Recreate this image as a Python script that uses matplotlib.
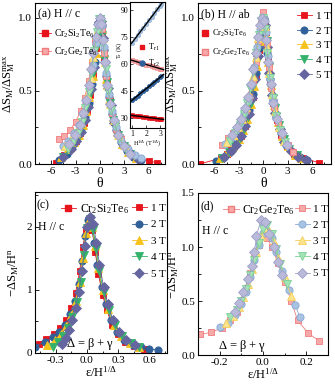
import numpy as np
import matplotlib
matplotlib.use("Agg")
import matplotlib.pyplot as plt
from matplotlib.ticker import AutoMinorLocator, MultipleLocator

plt.rcParams['font.family'] = ['Liberation Serif', 'DejaVu Serif']
plt.rcParams['mathtext.fontset'] = 'stix'
plt.rcParams['mathtext.default'] = 'regular'
plt.rcParams['axes.unicode_minus'] = False
plt.rcParams['xtick.direction'] = 'in'
plt.rcParams['ytick.direction'] = 'in'
plt.rcParams['axes.linewidth'] = 0.8

fields = ["1 T", "2 T", "3 T", "4 T", "5 T"]

# panel (a): H // c, Cr2Si2Te6 (dark) and Cr2Ge2Te6 (light)
a_si_x = [
    [-5.4, -4.4, -3.6, -3.0, -2.5, -2.0, -1.6, -1.2, -0.8, -0.45, -0.15, 0.05, 0.3, 0.55, 0.85, 1.2, 1.6, 2.1, 2.7, 3.4, 4.3, 6.0, 7.0],
    [-5.0, -4.1, -3.4, -2.8, -2.3, -1.8, -1.4, -1.0, -0.65, -0.3, -0.05, 0.2, 0.45, 0.75, 1.1, 1.5, 2.0, 2.6, 3.3, 4.1, 5.0],
    [-4.8, -3.9, -3.2, -2.6, -2.1, -1.7, -1.3, -0.9, -0.55, -0.25, 0.0, 0.25, 0.5, 0.8, 1.15, 1.55, 2.05, 2.7, 3.5, 4.4],
    [-4.6, -3.7, -3.0, -2.45, -2.0, -1.6, -1.2, -0.85, -0.5, -0.2, 0.05, 0.3, 0.55, 0.85, 1.2, 1.65, 2.2, 2.9, 3.7],
    [-4.5, -3.6, -2.9, -2.4, -1.9, -1.5, -1.1, -0.75, -0.4, -0.1, 0.1, 0.35, 0.6, 0.95, 1.3, 1.75, 2.3, 3.0, 3.8, 4.8],
]
a_si_y = [
    [0.01, 0.06, 0.11, 0.16, 0.21, 0.28, 0.36, 0.47, 0.61, 0.79, 0.94, 0.99, 0.9, 0.72, 0.56, 0.43, 0.31, 0.21, 0.14, 0.09, 0.05, 0.02, 0.01],
    [0.03, 0.07, 0.12, 0.18, 0.24, 0.32, 0.42, 0.55, 0.7, 0.88, 0.99, 0.94, 0.78, 0.6, 0.46, 0.34, 0.23, 0.15, 0.09, 0.05, 0.03],
    [0.05, 0.1, 0.15, 0.2, 0.27, 0.36, 0.46, 0.6, 0.76, 0.92, 1.0, 0.92, 0.76, 0.58, 0.44, 0.32, 0.22, 0.14, 0.08, 0.04],
    [0.05, 0.1, 0.15, 0.21, 0.28, 0.37, 0.48, 0.62, 0.79, 0.94, 0.99, 0.88, 0.72, 0.56, 0.42, 0.3, 0.2, 0.12, 0.07],
    [0.05, 0.1, 0.16, 0.22, 0.3, 0.39, 0.51, 0.66, 0.84, 0.97, 0.98, 0.86, 0.7, 0.52, 0.4, 0.28, 0.19, 0.12, 0.07, 0.03],
]
a_ge_x = [
    [-5.1, -4.4, -3.7, -3.0, -2.4, -1.9, -1.4, -1.0, -0.6, -0.3, 0.0, 0.25, 0.5, 0.8, 1.1, 1.5, 2.0, 2.6, 3.3],
    [-4.6, -3.9, -3.2, -2.6, -2.1, -1.7, -1.3, -0.9, -0.55, -0.25, 0.0, 0.2, 0.45, 0.75, 1.05, 1.45, 1.95, 2.6, 3.4, 4.3, 5.0],
    [-4.3, -3.6, -3.0, -2.4, -1.95, -1.55, -1.15, -0.8, -0.45, -0.15, 0.1, 0.35, 0.6, 0.9, 1.25, 1.7, 2.2, 2.9],
    [-4.0, -3.3, -2.7, -2.2, -1.8, -1.4, -1.05, -0.7, -0.4, -0.1, 0.15, 0.4, 0.7, 1.0, 1.4, 1.85, 2.4, 3.1],
    [-3.8, -3.1, -2.5, -2.05, -1.7, -1.4, -1.1, -0.8, -0.5, -0.25, -0.05, 0.15, 0.35, 0.6, 0.9, 1.25, 1.7, 2.2, 2.9, 3.7],
]
a_ge_y = [
    [0.17, 0.19, 0.23, 0.29, 0.36, 0.45, 0.57, 0.7, 0.84, 0.95, 1.0, 0.92, 0.76, 0.6, 0.47, 0.35, 0.24, 0.17, 0.11],
    [0.12, 0.16, 0.21, 0.27, 0.34, 0.43, 0.54, 0.68, 0.83, 0.95, 1.0, 0.95, 0.8, 0.62, 0.48, 0.36, 0.25, 0.16, 0.1, 0.06, 0.04],
    [0.12, 0.17, 0.22, 0.29, 0.37, 0.47, 0.59, 0.73, 0.88, 0.98, 0.98, 0.86, 0.7, 0.54, 0.41, 0.3, 0.2, 0.13],
    [0.1, 0.15, 0.21, 0.29, 0.38, 0.49, 0.62, 0.77, 0.9, 0.99, 0.96, 0.83, 0.65, 0.5, 0.37, 0.27, 0.18, 0.11],
    [0.14, 0.2, 0.27, 0.35, 0.44, 0.54, 0.65, 0.76, 0.87, 0.96, 1.0, 0.96, 0.85, 0.7, 0.54, 0.41, 0.3, 0.2, 0.12, 0.07],
]

# panel (b): H // ab
b_si_x = [
    [-7.8, -5.2, -4.5, -3.9, -3.3, -2.7, -2.2, -1.7, -1.3, -0.9, -0.5, -0.2, 0.05, 0.3, 0.55, 0.85, 1.2, 1.65, 2.2, 2.9, 3.8, 4.8, 6.8],
    [-5.8, -4.8, -4.0, -3.3, -2.7, -2.2, -1.7, -1.3, -0.9, -0.55, -0.25, 0.0, 0.25, 0.5, 0.8, 1.15, 1.6, 2.15, 2.8, 3.6, 4.5, 5.4],
    [-5.3, -4.4, -3.7, -3.0, -2.5, -2.0, -1.55, -1.15, -0.8, -0.45, -0.15, 0.1, 0.35, 0.6, 0.9, 1.3, 1.75, 2.3, 3.0, 3.9, 4.6],
    [-5.0, -4.2, -3.5, -2.9, -2.4, -1.9, -1.5, -1.1, -0.75, -0.4, -0.1, 0.15, 0.4, 0.7, 1.0, 1.4, 1.9, 2.5, 3.2, 4.1],
    [-4.8, -4.0, -3.3, -2.75, -2.25, -1.8, -1.4, -1.0, -0.65, -0.3, -0.05, 0.2, 0.45, 0.75, 1.1, 1.5, 2.0, 2.6, 3.4, 4.3, 5.2],
]
b_si_y = [
    [0.0, 0.04, 0.07, 0.1, 0.14, 0.19, 0.26, 0.35, 0.46, 0.6, 0.78, 0.93, 0.99, 0.9, 0.73, 0.56, 0.42, 0.3, 0.2, 0.12, 0.07, 0.04, 0.01],
    [0.02, 0.05, 0.09, 0.14, 0.2, 0.27, 0.37, 0.48, 0.62, 0.79, 0.94, 1.0, 0.93, 0.76, 0.58, 0.44, 0.32, 0.21, 0.13, 0.08, 0.05, 0.03],
    [0.04, 0.08, 0.12, 0.17, 0.23, 0.31, 0.41, 0.53, 0.67, 0.84, 0.97, 0.99, 0.88, 0.7, 0.54, 0.4, 0.29, 0.19, 0.12, 0.06, 0.04],
    [0.04, 0.08, 0.12, 0.18, 0.24, 0.32, 0.42, 0.55, 0.7, 0.86, 0.98, 0.97, 0.84, 0.66, 0.51, 0.38, 0.27, 0.17, 0.1, 0.06],
    [0.05, 0.09, 0.13, 0.19, 0.26, 0.34, 0.45, 0.58, 0.74, 0.9, 0.99, 0.95, 0.8, 0.62, 0.47, 0.35, 0.24, 0.15, 0.09, 0.05, 0.03],
]
b_ge_x = [
    [-5.0, -4.3, -3.7, -3.1, -2.6, -2.1, -1.7, -1.3, -0.95, -0.6, -0.3, -0.05, 0.15, 0.4, 0.65, 0.95, 1.3, 1.75, 2.3, 3.0, 3.7],
    [-4.7, -4.0, -3.4, -2.8, -2.3, -1.85, -1.45, -1.1, -0.75, -0.45, -0.15, 0.1, 0.3, 0.55, 0.85, 1.2, 1.6, 2.1, 2.8],
    [-4.4, -3.7, -3.1, -2.55, -2.1, -1.7, -1.3, -0.95, -0.6, -0.3, -0.05, 0.2, 0.45, 0.75, 1.05, 1.45, 1.95, 2.6],
    [-4.1, -3.5, -2.9, -2.4, -2.0, -1.6, -1.25, -0.9, -0.55, -0.25, 0.0, 0.25, 0.5, 0.8, 1.15, 1.55, 2.05, 2.7],
    [-3.8, -3.2, -2.7, -2.25, -1.85, -1.5, -1.2, -0.9, -0.6, -0.35, -0.1, 0.1, 0.35, 0.6, 0.9, 1.25, 1.7, 2.25, 2.9],
]
b_ge_y = [
    [0.13, 0.18, 0.21, 0.25, 0.3, 0.37, 0.46, 0.57, 0.7, 0.84, 0.96, 1.04, 0.98, 0.83, 0.66, 0.52, 0.39, 0.29, 0.2, 0.13, 0.08],
    [0.14, 0.18, 0.23, 0.28, 0.35, 0.43, 0.54, 0.66, 0.8, 0.92, 1.0, 1.0, 0.9, 0.74, 0.58, 0.44, 0.33, 0.23, 0.14],
    [0.15, 0.2, 0.25, 0.31, 0.39, 0.48, 0.6, 0.73, 0.86, 0.96, 1.0, 0.94, 0.8, 0.62, 0.48, 0.36, 0.25, 0.16],
    [0.16, 0.21, 0.27, 0.34, 0.42, 0.52, 0.63, 0.76, 0.88, 0.98, 1.0, 0.92, 0.76, 0.59, 0.45, 0.33, 0.23, 0.15],
    [0.2, 0.25, 0.31, 0.38, 0.46, 0.55, 0.65, 0.76, 0.87, 0.95, 1.0, 0.98, 0.85, 0.7, 0.55, 0.42, 0.31, 0.21, 0.13],
]

# panel (c): Cr2Si2Te6, -dS/H^n vs eps/H^(1/Delta)
c_x = [
    [-0.46, -0.39, -0.32, -0.26, -0.2, -0.15, -0.11, -0.07, -0.04, -0.01, 0.02, 0.05, 0.08, 0.11, 0.15, 0.19, 0.24, 0.3, 0.37, 0.45, 0.55],
    [-0.5, -0.4, -0.33, -0.27, -0.21, -0.16, -0.12, -0.08, -0.05, -0.02, 0.01, 0.04, 0.07, 0.1, 0.14, 0.18, 0.23, 0.29, 0.36, 0.44, 0.52, 0.6, 0.68],
    [-0.38, -0.31, -0.25, -0.2, -0.15, -0.11, -0.07, -0.04, -0.01, 0.02, 0.05, 0.08, 0.11, 0.15, 0.2, 0.26, 0.33, 0.41, 0.5],
    [-0.33, -0.28, -0.23, -0.18, -0.14, -0.1, -0.06, -0.03, 0.0, 0.03, 0.06, 0.09, 0.12, 0.16, 0.21, 0.27, 0.34, 0.42, 0.5],
    [-0.24, -0.2, -0.17, -0.14, -0.11, -0.08, -0.05, -0.02, 0.0, 0.03, 0.06, 0.09, 0.12, 0.16, 0.2, 0.25, 0.31, 0.38, 0.46],
]
c_y = [
    [0.15, 0.22, 0.3, 0.4, 0.52, 0.72, 0.95, 1.3, 1.68, 1.95, 2.08, 1.95, 1.6, 1.25, 0.92, 0.68, 0.45, 0.3, 0.18, 0.11, 0.07],
    [0.1, 0.18, 0.25, 0.33, 0.45, 0.62, 0.82, 1.1, 1.45, 1.85, 2.1, 2.02, 1.75, 1.4, 1.05, 0.78, 0.52, 0.34, 0.21, 0.13, 0.09, 0.06, 0.05],
    [0.12, 0.2, 0.3, 0.42, 0.6, 0.82, 1.12, 1.5, 1.9, 2.1, 2.0, 1.7, 1.35, 1.0, 0.7, 0.45, 0.27, 0.16, 0.09],
    [0.1, 0.17, 0.27, 0.4, 0.57, 0.8, 1.12, 1.55, 1.98, 2.12, 1.95, 1.65, 1.3, 0.97, 0.68, 0.44, 0.27, 0.16, 0.1],
    [0.14, 0.24, 0.36, 0.52, 0.72, 0.97, 1.3, 1.7, 2.0, 2.15, 2.05, 1.75, 1.4, 1.05, 0.78, 0.52, 0.34, 0.2, 0.12],
]

# panel (d): Cr2Ge2Te6
d_x = [
    [-0.29, -0.24, -0.19, -0.15, -0.12, -0.1, -0.08, -0.06, -0.04, -0.02, 0.0, 0.02, 0.04, 0.07, 0.1, 0.13, 0.16, 0.21, 0.26],
    [-0.2, -0.16, -0.13, -0.1, -0.08, -0.06, -0.04, -0.02, 0.0, 0.02, 0.04, 0.06, 0.09, 0.12, 0.15, 0.17],
    [-0.17, -0.14, -0.11, -0.09, -0.07, -0.05, -0.03, -0.01, 0.01, 0.03, 0.05, 0.07, 0.1, 0.13],
    [-0.15, -0.12, -0.1, -0.08, -0.06, -0.04, -0.02, 0.0, 0.02, 0.04, 0.06, 0.08, 0.11],
    [-0.13, -0.11, -0.09, -0.07, -0.05, -0.04, -0.03, -0.01, 0.01, 0.03, 0.05, 0.07, 0.09],
]
d_y = [
    [0.19, 0.21, 0.25, 0.32, 0.4, 0.5, 0.62, 0.76, 0.9, 1.02, 1.1, 1.08, 1.0, 0.85, 0.68, 0.5, 0.32, 0.2, 0.13],
    [0.26, 0.3, 0.37, 0.47, 0.58, 0.72, 0.88, 1.02, 1.13, 1.15, 1.08, 0.95, 0.78, 0.6, 0.46, 0.35],
    [0.3, 0.36, 0.44, 0.54, 0.66, 0.8, 0.95, 1.1, 1.18, 1.15, 1.05, 0.9, 0.72, 0.55],
    [0.35, 0.42, 0.5, 0.61, 0.74, 0.88, 1.04, 1.17, 1.2, 1.12, 0.98, 0.84, 0.66],
    [0.4, 0.48, 0.58, 0.7, 0.82, 0.95, 1.1, 1.25, 1.23, 1.12, 1.0, 0.86, 0.74],
]

# inset of (a): T_r vs H^(1/Delta)
ins_h = [1.0, 1.2, 1.4, 1.6, 1.8, 2.0, 2.2, 2.4, 2.6, 2.8, 3.0, 3.1]
ins_ge_tr2 = [72.0, 74.0, 76.3, 78.3, 80.4, 82.5, 84.6, 86.5, 88.6, 90.6, 92.6, 93.5]
ins_ge_tr1 = [62.2, 61.7, 61.3, 60.8, 60.4, 59.9, 59.5, 59.0, 58.6, 58.1, 57.6, 57.3]
ins_si_tr2 = [40.0, 41.3, 42.6, 43.9, 45.1, 46.4, 47.7, 49.0, 50.2, 51.5, 52.8, 53.3]
ins_si_tr1 = [31.6, 31.4, 31.2, 31.0, 30.8, 30.6, 30.4, 30.2, 30.0, 29.8, 29.6, 29.5]

markers = ['s', 'o', '^', 'v', 'D']
dark = ['#e8141c', '#30609a', '#f6c21c', '#34b26a', '#65669f']
light_fill = ['#f7a9a9', '#a8c3e2', '#fde38c', '#a4e3b6', '#b9bad9']
light_edge = ['#f07c7c', '#86a8d2', '#f5cf5a', '#79d196', '#9d9ec8']
msizes = [4.8, 5.2, 5.4, 5.4, 4.6]


def draw(ax, xs, ys, light=False):
    lines = []
    for i in range(5):
        if light:
            fc, ec = light_fill[i], light_edge[i]
        else:
            fc, ec = dark[i], dark[i]
        ln, = ax.plot(xs[i], ys[i], marker=markers[i], ms=msizes[i], mfc=fc, mec=ec,
                      mew=0.6, color=ec, lw=0.6, label=fields[i])
        lines.append(ln)
    return lines


def style(ax):
    ax.tick_params(which='both', top=False, right=False, labelsize=8, width=0.6, pad=2)
    ax.tick_params(which='major', length=3)
    ax.tick_params(which='minor', length=1.8)
    ax.xaxis.set_minor_locator(AutoMinorLocator(2))
    ax.yaxis.set_minor_locator(AutoMinorLocator(2))


fig = plt.figure(figsize=(3.35, 3.86), dpi=100)
ax_a = fig.add_axes([0.1045, 0.5751, 0.388, 0.417])
ax_b = fig.add_axes([0.591, 0.5751, 0.397, 0.417])
ax_c = fig.add_axes([0.1045, 0.0855, 0.394, 0.417])
ax_d = fig.add_axes([0.591, 0.0803, 0.388, 0.4197])

ylab_ab = r'$\Delta S_M/\Delta S_M^{max}$'
ylab_cd = r'$-\Delta S_M/H^n$'
xlab_cd = r'$\epsilon/H^{1/\Delta}$'

# (a)
draw(ax_a, a_si_x, a_si_y)
draw(ax_a, a_ge_x, a_ge_y, light=True)
ax_a.set_xlim(-8, 8)
ax_a.set_ylim(0, 1.1)
ax_a.xaxis.set_major_locator(MultipleLocator(3))
ax_a.yaxis.set_major_locator(MultipleLocator(0.5))
ax_a.yaxis.set_major_formatter('{x:.1f}')
style(ax_a)
ax_a.set_xlabel(r'$\theta$', fontsize=10, labelpad=0)
ax_a.set_ylabel(ylab_ab, fontsize=9, labelpad=1)
ax_a.text(0.02, 0.965, '(a) H // c', transform=ax_a.transAxes, fontsize=8.5, va='top')
h1, = ax_a.plot([], [], marker='s', ms=4.6, color=dark[0], lw=0.6)
h2, = ax_a.plot([], [], marker='s', ms=4.6, mfc=light_fill[0], mec=light_edge[0], color=light_edge[0], lw=0.6)
ax_a.legend([h1, h2], [r'Cr$_2$Si$_2$Te$_6$', r'Cr$_2$Ge$_2$Te$_6$'], loc='upper left',
            bbox_to_anchor=(-0.01, 0.88), frameon=False, fontsize=7, handlelength=1.3,
            handletextpad=0.3, borderpad=0, labelspacing=0.55)

# inset
ax_in = fig.add_axes([0.388, 0.668, 0.1045, 0.326])
ax_in.plot(ins_h, ins_ge_tr2, 'o', ms=3.2, mfc=light_fill[1], mec=light_edge[1], mew=0.4)
ax_in.plot(ins_h, ins_ge_tr1, 's', ms=3.0, mfc=light_fill[0], mec=light_edge[0], mew=0.4)
ax_in.plot(ins_h, ins_si_tr2, 'o', ms=3.2, color=dark[1], mew=0.4)
ax_in.plot(ins_h, ins_si_tr1, 's', ms=3.0, color=dark[0], mew=0.4)
hx = np.array([0.95, 3.25])
for ser in [ins_ge_tr2, ins_ge_tr1, ins_si_tr2, ins_si_tr1]:
    k, b0 = np.polyfit(ins_h, ser, 1)
    ax_in.plot(hx, k * hx + b0, color='black', lw=1.0)
ax_in.set_xlim(0.85, 3.35)
ax_in.set_ylim(24.5, 94.5)
ax_in.set_xticks([1, 2, 3])
ax_in.set_yticks([30, 45, 60, 75, 90])
ax_in.tick_params(labelsize=5.5, length=2, width=0.5, pad=1)
ax_in.set_xlabel(r'$H^{1/\Delta}$ ($T^{1/\Delta}$)', fontsize=4.5, labelpad=0.5)
ax_in.set_ylabel(r'$T_r$ (K)', fontsize=4.5, labelpad=0)
ax_in.yaxis.set_label_coords(-0.17, 0.615)
t1, = ax_in.plot([], [], 's', ms=3.4, color=dark[0])
t2, = ax_in.plot([], [], 'o', ms=3.6, color=dark[1])
ax_in.legend([t1, t2], [r'T$_{r1}$', r'T$_{r2}$'], loc='upper left', bbox_to_anchor=(0.12, 0.72),
             frameon=False, fontsize=6, handlelength=0.8, handletextpad=0.4, borderpad=0,
             labelspacing=0.6)

# (b)
lines_b = draw(ax_b, b_si_x, b_si_y)
draw(ax_b, b_ge_x, b_ge_y, light=True)
ax_b.set_xlim(-8, 8.3)
ax_b.set_ylim(0, 1.1)
ax_b.xaxis.set_major_locator(MultipleLocator(3))
ax_b.yaxis.set_major_locator(MultipleLocator(0.5))
ax_b.yaxis.set_major_formatter('{x:.1f}')
style(ax_b)
ax_b.set_xlabel(r'$\theta$', fontsize=10, labelpad=0)
ax_b.set_ylabel(ylab_ab, fontsize=9, labelpad=1)
ax_b.text(0.02, 0.965, '(b) H // ab', transform=ax_b.transAxes, fontsize=8.5, va='top')
leg_b = ax_b.legend(lines_b, fields, loc='upper left', bbox_to_anchor=(0.7, 0.985), frameon=False,
                    fontsize=8, handlelength=1.4, handletextpad=0.3, borderpad=0, labelspacing=0.45)
ax_b.add_artist(leg_b)
m1, = ax_b.plot([], [], 's', ms=3.8, color=dark[0])
m2, = ax_b.plot([], [], 's', ms=3.8, mfc=light_fill[0], mec=light_edge[0])
ax_b.legend([m1, m2], [r'Cr$_2$Si$_2$Te$_6$', r'Cr$_2$Ge$_2$Te$_6$'], loc='upper left',
            bbox_to_anchor=(0.0, 0.87), frameon=False, fontsize=6, handlelength=0.8,
            handletextpad=0.4, borderpad=0, labelspacing=0.9)

# (c)
lines_c = draw(ax_c, c_x, c_y)
ax_c.set_xlim(-0.5, 0.77)
ax_c.set_ylim(0, 2.55)
ax_c.xaxis.set_major_locator(MultipleLocator(0.3))
ax_c.xaxis.set_major_formatter('{x:.1f}')
ax_c.yaxis.set_major_locator(MultipleLocator(1))
style(ax_c)
ax_c.set_xlabel(xlab_cd, fontsize=9, labelpad=0)
ax_c.set_ylabel(ylab_cd, fontsize=9, labelpad=4)
ax_c.text(0.015, 0.955, '(c)', transform=ax_c.transAxes, fontsize=8.5, va='top')
ax_c.text(0.02, 0.82, 'H // c', transform=ax_c.transAxes, fontsize=8.5, va='top')
ax_c.text(0.42, 0.055, r'$\Delta$ = $\beta$ + $\gamma$', transform=ax_c.transAxes, fontsize=9,
          ha='center', va='center', zorder=10)
leg_c = ax_c.legend(lines_c, fields, loc='upper left', bbox_to_anchor=(0.69, 0.965), frameon=False,
                    fontsize=8, handlelength=1.4, handletextpad=0.3, borderpad=0, labelspacing=0.6)
ax_c.add_artist(leg_c)
cs, = ax_c.plot([], [], marker='s', ms=4.6, color=dark[0], lw=0.6)
ax_c.legend([cs], [r'Cr$_2$Si$_2$Te$_6$'], loc='upper left', bbox_to_anchor=(0.15, 0.975),
            frameon=False, fontsize=8.5, handlelength=1.3, handletextpad=0.3, borderpad=0)

# (d)
lines_d = draw(ax_d, d_x, d_y, light=True)
ax_d.set_xlim(-0.3, 0.3)
ax_d.set_ylim(0, 1.5)
ax_d.xaxis.set_major_locator(MultipleLocator(0.2))
ax_d.xaxis.set_major_formatter('{x:.1f}')
ax_d.yaxis.set_major_locator(MultipleLocator(0.5))
ax_d.yaxis.set_major_formatter('{x:.1f}')
style(ax_d)
ax_d.set_xlabel(xlab_cd, fontsize=9, labelpad=0)
ax_d.set_ylabel(ylab_cd, fontsize=9, labelpad=0)
ax_d.text(0.02, 0.955, '(d)', transform=ax_d.transAxes, fontsize=8.5, va='top')
ax_d.text(0.03, 0.8, 'H // c', transform=ax_d.transAxes, fontsize=8.5, va='top')
ax_d.text(0.34, 0.055, r'$\Delta$ = $\beta$ + $\gamma$', transform=ax_d.transAxes, fontsize=9,
          ha='center', va='center', zorder=10)
leg_d = ax_d.legend(lines_d, fields, loc='upper left', bbox_to_anchor=(0.7, 0.965), frameon=False,
                    fontsize=8, handlelength=1.4, handletextpad=0.3, borderpad=0, labelspacing=0.57)
ax_d.add_artist(leg_d)
ds, = ax_d.plot([], [], marker='s', ms=4.6, mfc=light_fill[0], mec=light_edge[0], color=light_edge[0], lw=0.6)
ax_d.legend([ds], [r'Cr$_2$Ge$_2$Te$_6$'], loc='upper left', bbox_to_anchor=(0.15, 0.975),
            frameon=False, fontsize=8.5, handlelength=1.3, handletextpad=0.3, borderpad=0)

fig.savefig('out.png', dpi=100)
